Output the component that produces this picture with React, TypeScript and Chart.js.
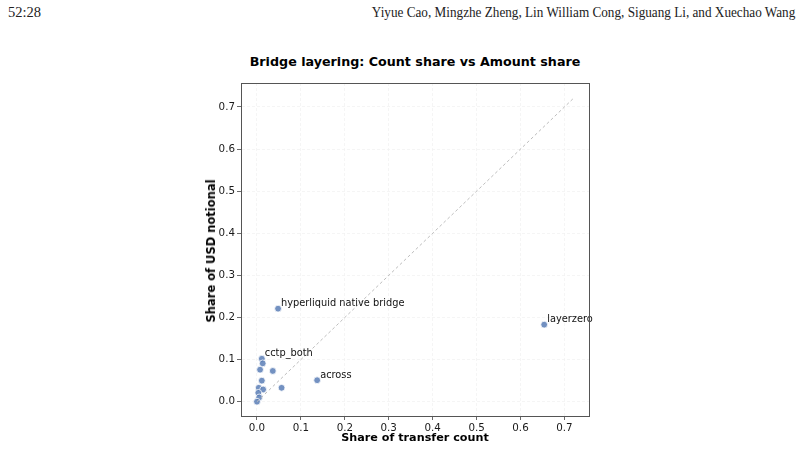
import React, { useRef, useEffect } from "react";
import { Chart, registerables } from "chart.js";

Chart.register(...registerables);

// bridge labels (empty = unlabelled point)
const BRIDGE_LABELS = [
  "layerzero",
  "hyperliquid native bridge",
  "across",
  "cctp_both",
  "",
  "",
  "",
  "",
  "",
  "",
  "",
  "",
  "",
  "",
];
// share of transfer count
const COUNT_SHARE = [0.654, 0.048, 0.137, 0.011, 0.013, 0.007, 0.036, 0.011, 0.056, 0.004, 0.014, 0.003, 0.005, 0.0];
// share of USD notional
const AMOUNT_SHARE = [0.183, 0.221, 0.051, 0.102, 0.091, 0.076, 0.073, 0.05, 0.033, 0.033, 0.029, 0.021, 0.01, 0.0];

const X_TICKS = [0, 0.1, 0.2, 0.3, 0.4, 0.5, 0.6, 0.7];
const Y_TICKS = [0, 0.1, 0.2, 0.3, 0.4, 0.5, 0.6, 0.7];
const DIAG_END = 0.72;

const FONT = "'DejaVu Sans', sans-serif";

const frameAndLabels = {
  id: "frameAndLabels",
  afterDatasetsDraw(chart: any) {
    const { ctx, scales } = chart;
    ctx.save();
    ctx.font = `9.8px ${FONT}`;
    ctx.fillStyle = "#111";
    ctx.textAlign = "left";
    ctx.textBaseline = "middle";
    BRIDGE_LABELS.forEach((name, i) => {
      if (!name) return;
      const x = scales.x.getPixelForValue(COUNT_SHARE[i]);
      const y = scales.y.getPixelForValue(AMOUNT_SHARE[i]);
      ctx.fillText(name, x + 3, y - 5);
    });
    ctx.restore();
  },
  afterDraw(chart: any) {
    const { ctx, chartArea } = chart;
    ctx.save();
    ctx.strokeStyle = "#555";
    ctx.lineWidth = 1;
    ctx.strokeRect(
      Math.round(chartArea.left) + 0.5,
      Math.round(chartArea.top) + 0.5,
      Math.round(chartArea.right - chartArea.left),
      Math.round(chartArea.bottom - chartArea.top)
    );
    ctx.restore();
  },
};

function ScatterChart() {
  const canvasRef = useRef<HTMLCanvasElement>(null);

  useEffect(() => {
    if (!canvasRef.current) return;
    const points = COUNT_SHARE.map((x, i) => ({ x, y: AMOUNT_SHARE[i] }));

    const axisCommon = {
      type: "linear" as const,
      border: { display: true, color: "#555", width: 1, dash: [3, 2] },
      grid: {
        color: "#f3f3f3",
        lineWidth: 0.8,
        drawTicks: true,
        tickLength: 4,
        tickColor: "#444",
        tickBorderDash: [],
      },
      ticks: {
        font: { family: FONT, size: 10.3 },
        color: "#1a1a1a",
        padding: 2,
        callback: (v: any) => Number(v).toFixed(1),
      },
    };

    const chart = new Chart(canvasRef.current, {
      type: "scatter",
      data: {
        datasets: [
          {
            type: "line",
            data: [
              { x: 0, y: 0 },
              { x: DIAG_END, y: DIAG_END },
            ],
            borderColor: "#bdbdbd",
            borderWidth: 1,
            borderDash: [3, 2.5],
            pointRadius: 0,
            fill: false,
          } as any,
          {
            data: points,
            backgroundColor: "rgba(76,114,176,0.78)",
            borderColor: "#ffffff",
            borderWidth: 0.8,
            pointRadius: 3.4,
          },
        ],
      },
      options: {
        animation: false,
        responsive: false,
        layout: { padding: { top: 83, right: 212, left: 0, bottom: 0 } },
        plugins: {
          legend: { display: false },
          tooltip: { enabled: false },
          title: { display: false },
        },
        scales: {
          x: {
            ...axisCommon,
            min: -0.0364,
            max: 0.756,
            afterBuildTicks: (s: any) => {
              s.ticks = X_TICKS.map((value) => ({ value }));
            },
            afterFit: (s: any) => {
              s.height = 33;
            },
          },
          y: {
            ...axisCommon,
            min: -0.034,
            max: 0.757,
            afterBuildTicks: (s: any) => {
              s.ticks = Y_TICKS.map((value) => ({ value }));
            },
            afterFit: (s: any) => {
              s.width = 241;
            },
          },
        },
      },
      plugins: [frameAndLabels],
    } as any);

    return () => chart.destroy();
  }, []);

  return (
    <canvas
      ref={canvasRef}
      width={801}
      height={449}
      style={{ position: "absolute", left: 0, top: 0, width: 801, height: 449 }}
    />
  );
}

export default function App() {
  return (
    <div
      style={{
        position: "fixed",
        left: 0,
        top: 0,
        width: 801,
        height: 449,
        background: "#fff",
        overflow: "hidden",
      }}
    >
      <div
        style={{
          position: "absolute",
          left: 8,
          top: 4,
          fontFamily: "'Liberation Serif', serif",
          fontSize: 14.5,
          color: "#222",
        }}
      >
        52:28
      </div>
      <div
        style={{
          position: "absolute",
          right: 6,
          top: 4,
          fontFamily: "'Liberation Serif', serif",
          fontSize: 14.5,
          color: "#222",
          whiteSpace: "nowrap",
          transform: "scaleX(0.91)",
          transformOrigin: "right",
        }}
      >
        Yiyue Cao, Mingzhe Zheng, Lin William Cong, Siguang Li, and Xuechao Wang
      </div>
      <div
        style={{
          position: "absolute",
          left: 0,
          top: 54,
          width: 830,
          textAlign: "center",
          fontFamily: FONT,
          fontWeight: "bold",
          fontSize: 12.7,
          color: "#000",
        }}
      >
        Bridge layering: Count share vs Amount share
      </div>
      <ScatterChart />
      <div
        style={{
          position: "absolute",
          left: 0,
          top: 431,
          width: 830,
          textAlign: "center",
          fontFamily: FONT,
          fontWeight: "bold",
          fontSize: 11.2,
          color: "#000",
        }}
      >
        Share of transfer count
      </div>
      <div
        style={{
          position: "absolute",
          left: 211,
          top: 251,
          fontFamily: FONT,
          fontWeight: "bold",
          fontSize: 11.5,
          color: "#000",
          whiteSpace: "nowrap",
          transform: "translate(-50%, -50%) rotate(-90deg)",
        }}
      >
        Share of USD notional
      </div>
    </div>
  );
}
